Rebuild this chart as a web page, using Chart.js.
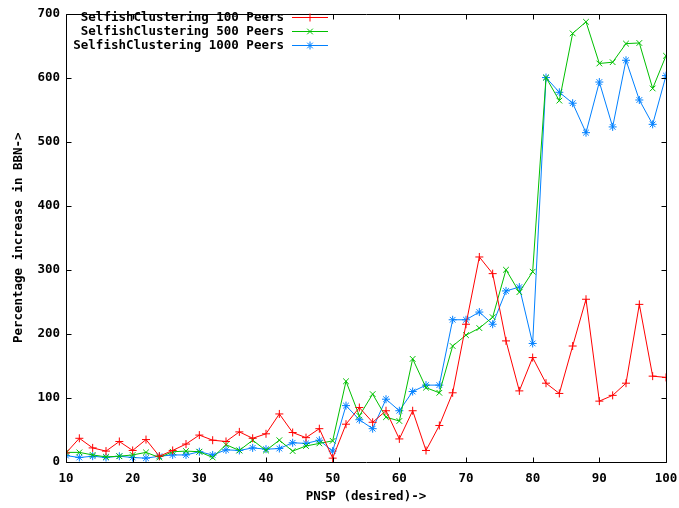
<!DOCTYPE html>
<html>
<head>
<meta charset="utf-8">
<script src="https://cdn.jsdelivr.net/npm/chart.js@4/dist/chart.umd.min.js"></script>
<style>
  html, body { margin: 0; padding: 0; background: #fff; }
  canvas { display: block; }
</style>
</head>
<body>
<canvas id="myChart" width="679" height="508"></canvas>
<script>
// PNSP values on the x axis
const pnsp = [10, 12, 14, 16, 18, 20, 22, 24, 26, 28, 30, 32, 34, 36, 38, 40,
  42, 44, 46, 48, 50, 52, 54, 56, 58, 60, 62, 64, 66, 68, 70, 72, 74, 76, 78,
  80, 82, 84, 86, 88, 90, 92, 94, 96, 98, 100];

// percentage increase in BBN per network size
const peers100 = [14, 37, 22, 17, 32, 18, 35, 9, 18, 28, 42, 34, 32, 47, 37,
  44, 75, 46, 38, 52, 6, 59, 85, 62, 80, 36, 80, 18, 57, 108, 215, 320, 294,
  189, 111, 163, 123, 107, 181, 254, 95, 104, 123, 246, 134, 132];
const peers500 = [15, 15, 11, 8, 9, 11, 15, 7, 16, 17, 16, 7, 27, 18, 34, 18,
  34, 17, 25, 29, 33, 126, 72, 106, 70, 64, 161, 116, 108, 181, 198, 209, 226,
  300, 265, 297, 600, 564, 669, 687, 622, 624, 653, 654, 583, 634];
const peers1000 = [10, 7, 9, 7, 9, 7, 6, 9, 11, 11, 16, 11, 19, 18, 22, 20,
  21, 30, 29, 34, 17, 88, 66, 52, 98, 80, 110, 120, 120, 222, 222, 234, 215,
  267, 273, 185, 600, 577, 560, 514, 593, 523, 627, 565, 527, 603];

const seriesNames = [
  "SelfishClustering 100 Peers",
  "SelfishClustering 500 Peers",
  "SelfishClustering 1000 Peers",
];

const monoFont = { family: "'DejaVu Sans Mono', 'Liberation Mono', monospace", size: 12.5, weight: "bold" };

function series(label, values, color, style) {
  return {
    label: label,
    data: values.map((v, i) => ({ x: pnsp[i], y: v })),
    borderColor: color,
    backgroundColor: color,
    borderWidth: 1,
    pointStyle: style,
    pointRadius: 4,
    pointBorderWidth: 1,
    pointHoverRadius: 4,
    tension: 0,
  };
}

// gnuplot-style frame with inward ticks on all four sides
const framePlugin = {
  id: "frame",
  afterDraw(chart) {
    const { ctx, chartArea: a, scales } = chart;
    ctx.save();
    ctx.strokeStyle = "#000";
    ctx.lineWidth = 1;
    const L = Math.round(a.left) + 0.5, R = Math.round(a.right) + 0.5;
    const T = Math.round(a.top) + 0.5, B = Math.round(a.bottom) + 0.5;
    ctx.beginPath();
    ctx.rect(L, T, R - L, B - T);
    const len = 5;
    scales.x.ticks.forEach((t) => {
      const px = Math.round(scales.x.getPixelForValue(t.value)) + 0.5;
      ctx.moveTo(px, B); ctx.lineTo(px, B - len);
      ctx.moveTo(px, T); ctx.lineTo(px, T + len);
    });
    scales.y.ticks.forEach((t) => {
      const py = Math.round(scales.y.getPixelForValue(t.value)) + 0.5;
      ctx.moveTo(L, py); ctx.lineTo(L + len, py);
      ctx.moveTo(R, py); ctx.lineTo(R - len, py);
    });
    ctx.stroke();

    // key in the top left corner: text, then a line sample with its marker
    ctx.font = `${monoFont.weight} ${monoFont.size}px ${monoFont.family}`;
    ctx.textAlign = "right";
    ctx.textBaseline = "middle";
    chart.data.datasets.forEach((ds, i) => {
      const y = 17.5 + i * 14;
      ctx.fillStyle = "#000";
      ctx.fillText(ds.label, 284, y);
      ctx.strokeStyle = ds.borderColor;
      ctx.beginPath();
      ctx.moveTo(292, y); ctx.lineTo(328, y);
      ctx.stroke();
      Chart.helpers.drawPoint(ctx, {
        pointStyle: ds.pointStyle, radius: 4, rotation: 0, borderWidth: 1,
      }, 310, y);
    });
    ctx.restore();
  },
};

const ctx = document.getElementById("myChart").getContext("2d");
const myChart = new Chart(ctx, {
  type: "line",
  data: {
    datasets: [
      series(seriesNames[0], peers100, "#ff0000", "cross"),
      series(seriesNames[1], peers500, "#00c000", "crossRot"),
      series(seriesNames[2], peers1000, "#0080ff", "star"),
    ],
  },
  options: {
    responsive: false,
    animation: false,
    layout: { padding: { left: 0, top: 6, right: 13, bottom: 0 } },
    plugins: { legend: { display: false }, tooltip: { enabled: false } },
    scales: {
      x: {
        type: "linear",
        min: 10,
        max: 100,
        grid: { display: false, drawTicks: false },
        border: { display: false },
        ticks: { stepSize: 10, color: "#000", font: monoFont, padding: 9, maxRotation: 0 },
        title: { display: true, text: "PNSP (desired)->", color: "#000", font: monoFont, padding: { top: 0, bottom: 4 } },
        afterFit: (scale) => {
          scale.height = 46;
          scale.paddingLeft = 0;
          scale.paddingRight = 0;
        },
      },
      y: {
        min: 0,
        max: 700,
        grid: { display: false, drawTicks: false },
        border: { display: false },
        ticks: { stepSize: 100, color: "#000", font: monoFont, padding: 6 },
        title: { display: true, text: "Percentage increase in BBN->", color: "#000", font: monoFont, padding: { top: 11, bottom: 0 } },
        afterFit: (scale) => { scale.width = 66; },
      },
    },
  },
  plugins: [framePlugin],
});
</script>
</body>
</html>
